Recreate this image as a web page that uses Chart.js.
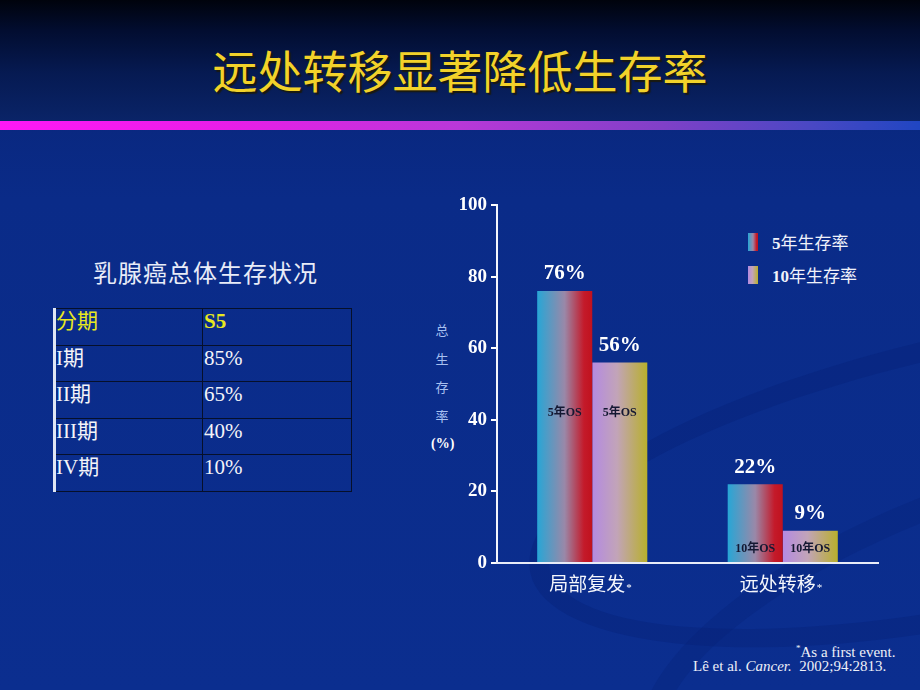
<!DOCTYPE html>
<html><head><meta charset="utf-8">
<script src="https://cdn.jsdelivr.net/npm/chart.js@4/dist/chart.umd.min.js"></script>
<style>
html,body{margin:0;padding:0;}
body{width:920px;height:690px;position:relative;overflow:hidden;background:linear-gradient(180deg,#082373 0px,#0a2b88 200px,#0b2e8f 690px);font-family:"Liberation Serif","Noto Sans CJK SC",serif;}
#top{position:absolute;left:0;top:0;width:920px;height:122px;background:linear-gradient(180deg,#00030c 0%,#020d30 25%,#061a52 60%,#0a2468 100%);}
#rule{position:absolute;left:0;top:121px;width:920px;height:9px;background:linear-gradient(90deg,#ff18f6 0%,#e81ee8 25%,#b838d8 50%,#8040c8 72%,#4a48c4 88%,#2046c2 100%);}
#title{position:absolute;left:0;width:920px;top:40px;text-align:center;font-family:"Noto Sans CJK SC";font-size:45px;line-height:60px;color:#f2d22a;text-shadow:2px 2px 1px #1a1a10;}
.swoosh{position:absolute;border-radius:50%;}
#ttitle{position:absolute;left:93px;top:256px;font-family:"Noto Sans CJK SC";font-size:24px;line-height:32px;color:#e8ecf8;letter-spacing:1px;}
table{position:absolute;left:53px;top:308px;border-collapse:collapse;}
td{border:1.5px solid #06102a;width:146px;height:35.6px;padding:0 1px;vertical-align:top;font-size:21px;line-height:24px;color:#f4f4f8;font-family:"Liberation Serif","Noto Sans CJK SC",serif;}
td.c1{border-left:3px solid #dfe6f4;padding-left:0;width:145px;}
td.h{color:#e8e820;}
#ytitle{position:absolute;left:431px;top:320px;width:22px;text-align:center;font-family:"Noto Sans CJK SC";font-size:13px;color:#a8c0f0;}
#ytitle div{height:28.5px;line-height:20px;}
#ytitle .pct{font-family:"Liberation Serif";font-weight:bold;color:#ffffff;font-size:14px;}
.leg{position:absolute;left:748px;font-size:17px;color:#f0f2fa;line-height:20px;}
.leg i{position:absolute;left:0;top:1px;width:10px;height:18px;}
.leg span{position:absolute;left:24px;top:0;white-space:nowrap;font-family:"Noto Sans CJK SC";}
.leg b{font-family:"Liberation Serif";}
.foot{position:absolute;font-size:15px;line-height:16px;color:#eef0f8;font-family:"Liberation Serif";white-space:nowrap;}
canvas{position:absolute;left:0;top:0;}
</style></head>
<body>
<div id="top"></div>
<div class="swoosh" style="left:520px;top:330px;width:900px;height:250px;border:20px solid rgba(6,32,118,0.35);transform:rotate(-12deg);"></div>
<div class="swoosh" style="left:620px;top:480px;width:700px;height:250px;border:24px solid rgba(6,32,118,0.3);transform:rotate(-20deg);"></div>
<div id="rule"></div>
<div id="title">远处转移显著降低生存率</div>
<div id="ttitle">乳腺癌总体生存状况</div>
<table id="tbl"></table>
<div id="ytitle"><div>总</div><div>生</div><div>存</div><div>率</div><div class="pct">(%)</div></div>
<div class="leg" style="top:232px"><i id="sw0"></i><span><b>5</b>年生存率</span></div>
<div class="leg" style="top:265px"><i id="sw1"></i><span><b>10</b>年生存率</span></div>
<div class="foot" style="left:796px;top:640px;"><sup style="font-size:9px">*</sup>As a first event.</div>
<div class="foot" style="left:693px;top:658px;">Lê et al. <i>Cancer.</i>&nbsp; 2002;94:2813.</div>
<canvas id="c" width="920" height="690"></canvas>
<script>
// ---- data ----
const categories = ['局部复发', '远处转移'];
const seriesNames = ['5年生存率', '10年生存率'];
const fiveYear = [76, 22];
const tenYear = [56, 9];
const innerLabels = ['5年OS', '10年OS'];
const tableHeader = ['分期', 'S5'];
const stages = ['I期', 'II期', 'III期', 'IV期'];
const s5 = ['85%', '65%', '40%', '10%'];

// ---- styles ----
const stops = [
  [[0, '#27a6d6'], [0.5, '#9a88a8'], [0.85, '#c41a2a'], [1, '#c0121e']],
  [[0, '#b48ae2'], [0.45, '#c2a4b8'], [1, '#b8b02c']]
];
const innerLabelValue = [42, 4];

// table
const tbl = document.getElementById('tbl');
function row(cells, cls) {
  const tr = document.createElement('tr');
  cells.forEach((t, i) => {
    const td = document.createElement('td');
    td.textContent = t;
    td.className = (i === 0 ? 'c1 ' : '') + (cls || '');
    if (cls === 'h' && i === 1) td.style.fontWeight = 'bold';
    tr.appendChild(td);
  });
  tbl.appendChild(tr);
}
row(tableHeader, 'h');
stages.forEach((s, i) => row([s, s5[i]]));

// legend swatches
stops.forEach((st, i) => {
  document.getElementById('sw' + i).style.background =
    'linear-gradient(90deg,' + st.map(s => s[1] + ' ' + (s[0] * 100) + '%').join(',') + ')';
});

const gradPlugin = {
  id: 'grad',
  beforeDatasetsDraw(chart) {
    const ctx = chart.ctx;
    chart.data.datasets.forEach((ds, i) => {
      chart.getDatasetMeta(i).data.forEach(el => {
        const l = el.x - el.width / 2, r = el.x + el.width / 2;
        const g = ctx.createLinearGradient(l, 0, r, 0);
        stops[i].forEach(s => g.addColorStop(s[0], s[1]));
        el.options = Object.assign({}, el.options, { backgroundColor: g });
      });
    });
  },
  afterDatasetsDraw(chart) {
    const ctx = chart.ctx;
    const y = chart.scales.y;
    ctx.save();
    ctx.textAlign = 'center';
    ctx.textBaseline = 'middle';
    chart.data.datasets.forEach((ds, i) => {
      chart.getDatasetMeta(i).data.forEach((el, j) => {
        ctx.fillStyle = '#ffffff';
        ctx.font = 'bold 21px "Liberation Serif"';
        ctx.fillText(ds.data[j] + '%', el.x, el.y - 17);
        ctx.fillStyle = '#141832';
        ctx.font = 'bold 12px "Liberation Serif", "Noto Sans CJK SC"';
        ctx.fillText(innerLabels[j], el.x, y.getPixelForValue(innerLabelValue[j]));
      });
    });
    ctx.restore();
  },
  afterDraw(chart) {
    // small asterisks after category labels
    const ctx = chart.ctx;
    const x = chart.scales.x;
    ctx.save();
    ctx.font = '19px "Noto Sans CJK SC"';
    categories.forEach((c, j) => {
      const w = ctx.measureText(c).width;
      const px = x.getPixelForValue(j) - 5 + w / 2 + 1;
      ctx.save();
      ctx.font = '11px "Liberation Serif"';
      ctx.textAlign = 'left';
      ctx.textBaseline = 'middle';
      ctx.fillStyle = '#ffffff';
      ctx.fillText('*', px, 588);
      ctx.restore();
    });
    ctx.restore();
  }
};

new Chart(document.getElementById('c'), {
  type: 'bar',
  data: {
    labels: categories,
    datasets: [
      { label: seriesNames[0], data: fiveYear, backgroundColor: '#888' },
      { label: seriesNames[1], data: tenYear, backgroundColor: '#888' }
    ]
  },
  options: {
    responsive: false,
    animation: false,
    layout: { padding: { left: 0, right: 42, top: 205, bottom: 0 } },
    datasets: { bar: { categoryPercentage: 0.578, barPercentage: 1, borderWidth: 0 } },
    plugins: { legend: { display: false }, tooltip: { enabled: false } },
    scales: {
      y: {
        min: 0, max: 100,
        afterFit(s) { s.width = 497; },
        ticks: { stepSize: 20, color: '#ffffff', padding: 4, font: { family: 'Liberation Serif', size: 19, weight: 'bold' } },
        grid: { drawOnChartArea: false, drawTicks: true, tickLength: 6, color: '#ffffff', lineWidth: 2 },
        border: { display: true, color: '#f4f6fc', width: 2 }
      },
      x: {
        afterFit(s) { s.height = 127; },
        ticks: { color: '#f4f6fc', padding: 9, labelOffset: -5, font: { family: 'Noto Sans CJK SC', size: 19 } },
        grid: { drawOnChartArea: false, drawTicks: false, display: false },
        border: { display: true, color: '#e8ecf8', width: 2 }
      }
    }
  },
  plugins: [gradPlugin]
});
</script>
</body></html>
